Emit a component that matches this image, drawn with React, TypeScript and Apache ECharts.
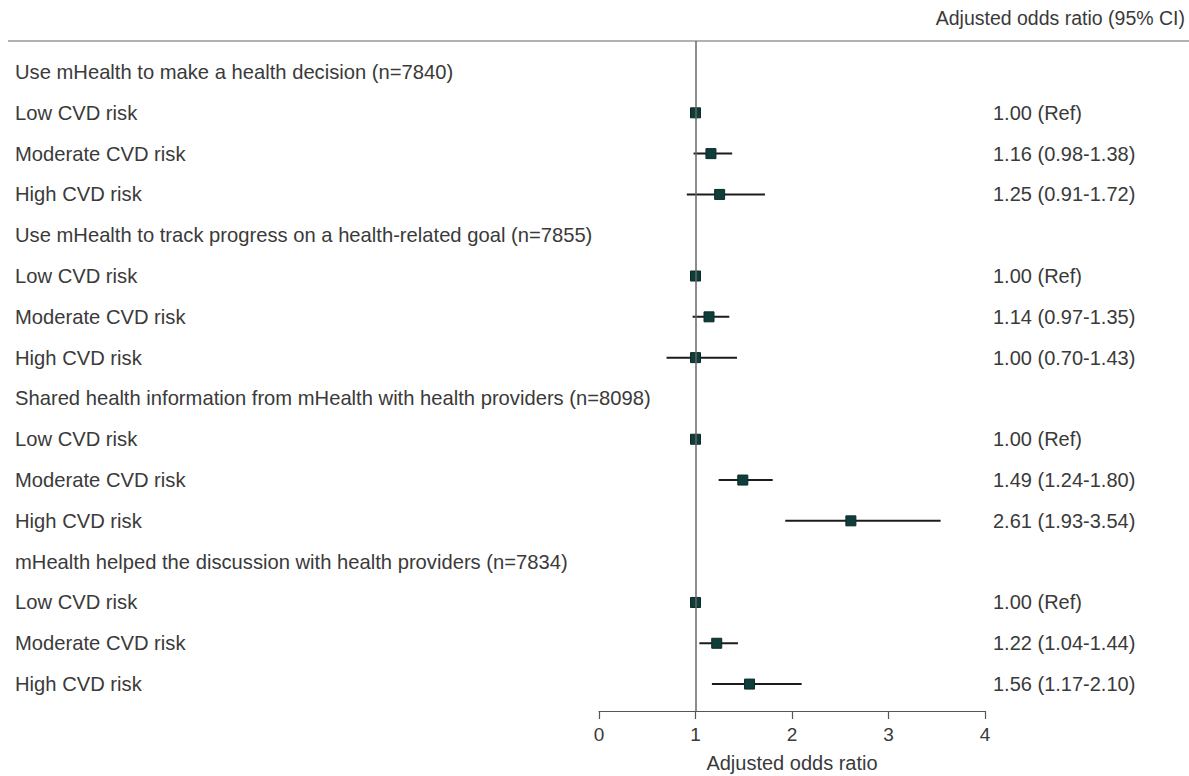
import React, { useEffect, useRef } from "react";
import * as echarts from "echarts";

// Outcome domains (section headings) and CVD risk groups within each
const domains = [
  "Use mHealth to make a health decision (n=7840)",
  "Use mHealth to track progress on a health-related goal (n=7855)",
  "Shared health information from mHealth with health providers (n=8098)",
  "mHealth helped the discussion with health providers (n=7834)",
];
const riskGroups = ["Low CVD risk", "Moderate CVD risk", "High CVD risk"];

// Adjusted odds ratios with 95% CI (null = reference group)
const oddsRatios = [
  [1.0, 1.16, 1.25],
  [1.0, 1.14, 1.0],
  [1.0, 1.49, 2.61],
  [1.0, 1.22, 1.56],
];
const lowerCI = [
  [null, 0.98, 0.91],
  [null, 0.97, 0.7],
  [null, 1.24, 1.93],
  [null, 1.04, 1.17],
];
const upperCI = [
  [null, 1.38, 1.72],
  [null, 1.35, 1.43],
  [null, 1.8, 3.54],
  [null, 1.44, 2.1],
];

const xTicks = [0, 1, 2, 3, 4];

const FONT = "'Liberation Sans', Arial, Helvetica, sans-serif";
const TEXT = "#3a3a3a";

// Flatten into one row per line of the plot
const rowLabels: string[] = [];
const ciLabels: string[] = [];
const points: (number | null)[][] = [];
domains.forEach((d, di) => {
  rowLabels.push(d);
  ciLabels.push("");
  riskGroups.forEach((g, gi) => {
    const row = rowLabels.length;
    rowLabels.push(g);
    const or = oddsRatios[di][gi];
    const lo = lowerCI[di][gi];
    const hi = upperCI[di][gi];
    ciLabels.push(
      lo == null || hi == null
        ? `${or.toFixed(2)} (Ref)`
        : `${or.toFixed(2)} (${lo.toFixed(2)}-${hi.toFixed(2)})`
    );
    points.push([row, or, lo, hi]);
  });
});
const rowIdx = rowLabels.map((_, i) => i);
const ciRows = rowIdx.filter((i) => ciLabels[i] !== "");

const Y_MIN = -0.76;
const Y_MAX = 15.66;

export default function App() {
  const ref = useRef<HTMLDivElement>(null);

  useEffect(() => {
    if (!ref.current) return;
    const chart = echarts.init(ref.current, undefined, { renderer: "svg" });
    chart.setOption({
      animation: false,
      backgroundColor: "#ffffff",
      textStyle: { fontFamily: FONT },
      title: {
        text: "Adjusted odds ratio (95% CI)",
        right: 4,
        top: 8,
        padding: 0,
        textStyle: { fontFamily: FONT, fontSize: 19.5, fontWeight: "normal", color: TEXT },
      },
      grid: {
        left: 599,
        right: 204,
        top: 41,
        bottom: 65,
        containLabel: false,
        outerBoundsMode: "none",
      },
      xAxis: {
        type: "value",
        min: xTicks[0],
        max: xTicks[xTicks.length - 1],
        interval: 1,
        splitLine: { show: false },
        axisLine: { onZero: false, lineStyle: { color: "#555", width: 1.2 } },
        axisTick: { length: 8, lineStyle: { color: "#555", width: 1.2 } },
        axisLabel: { fontFamily: FONT, fontSize: 19, color: TEXT, margin: 14 },
        name: "Adjusted odds ratio",
        nameLocation: "middle",
        nameGap: 42,
        nameTextStyle: { fontFamily: FONT, fontSize: 20, color: TEXT },
      },
      yAxis: [
        {
          type: "value",
          position: "left",
          min: Y_MIN,
          max: Y_MAX,
          inverse: true,
          splitLine: { show: false },
          axisLine: { show: false },
          axisTick: { show: false },
          axisLabel: {
            customValues: rowIdx,
            formatter: (v: number) => rowLabels[Math.round(v)] ?? "",
            align: "left",
            margin: 584,
            fontFamily: FONT,
            fontSize: 20.2,
            color: TEXT,
          },
        },
        {
          type: "value",
          position: "right",
          min: Y_MIN,
          max: Y_MAX,
          inverse: true,
          splitLine: { show: false },
          axisLine: { show: false },
          axisTick: { show: false },
          axisLabel: {
            customValues: ciRows,
            formatter: (v: number) => ciLabels[Math.round(v)] ?? "",
            align: "left",
            margin: 8,
            fontFamily: FONT,
            fontSize: 20,
            color: TEXT,
          },
        },
      ],
      graphic: [
        {
          type: "line",
          shape: { x1: 8, y1: 41, x2: 1189, y2: 41 },
          style: { stroke: "#666", lineWidth: 1.2 },
          silent: true,
        },
      ],
      series: [
        {
          type: "custom",
          xAxisIndex: 0,
          yAxisIndex: 0,
          data: points,
          encode: { x: [1, 2, 3], y: 0 },
          renderItem: (params: any, api: any) => {
            const row = api.value(0);
            const or = api.value(1);
            const lo = api.value(2);
            const hi = api.value(3);
            const c = api.coord([or, row]);
            const children: any[] = [];
            if (lo !== null && hi !== null && !isNaN(lo) && !isNaN(hi)) {
              const a = api.coord([lo, row]);
              const b = api.coord([hi, row]);
              children.push({
                type: "line",
                shape: { x1: a[0], y1: a[1], x2: b[0], y2: b[1] },
                style: { stroke: "#1c1c1c", lineWidth: 2 },
              });
            }
            const s = 10;
            children.push({
              type: "rect",
              shape: { x: c[0] - s / 2, y: c[1] - s / 2, width: s, height: s },
              style: { fill: "#0f3d3a", stroke: "#0a2a28", lineWidth: 1 },
            });
            return { type: "group", children };
          },
          markLine: {
            silent: true,
            symbol: "none",
            label: { show: false },
            lineStyle: { color: "#666", width: 1.5, type: "solid" },
            data: [{ xAxis: 1 }],
          },
          z: 3,
        },
      ],
    });
    return () => chart.dispose();
  }, []);

  return (
    <div
      ref={ref}
      style={{ position: "absolute", left: 0, top: 0, width: 1189, height: 776 }}
    />
  );
}
